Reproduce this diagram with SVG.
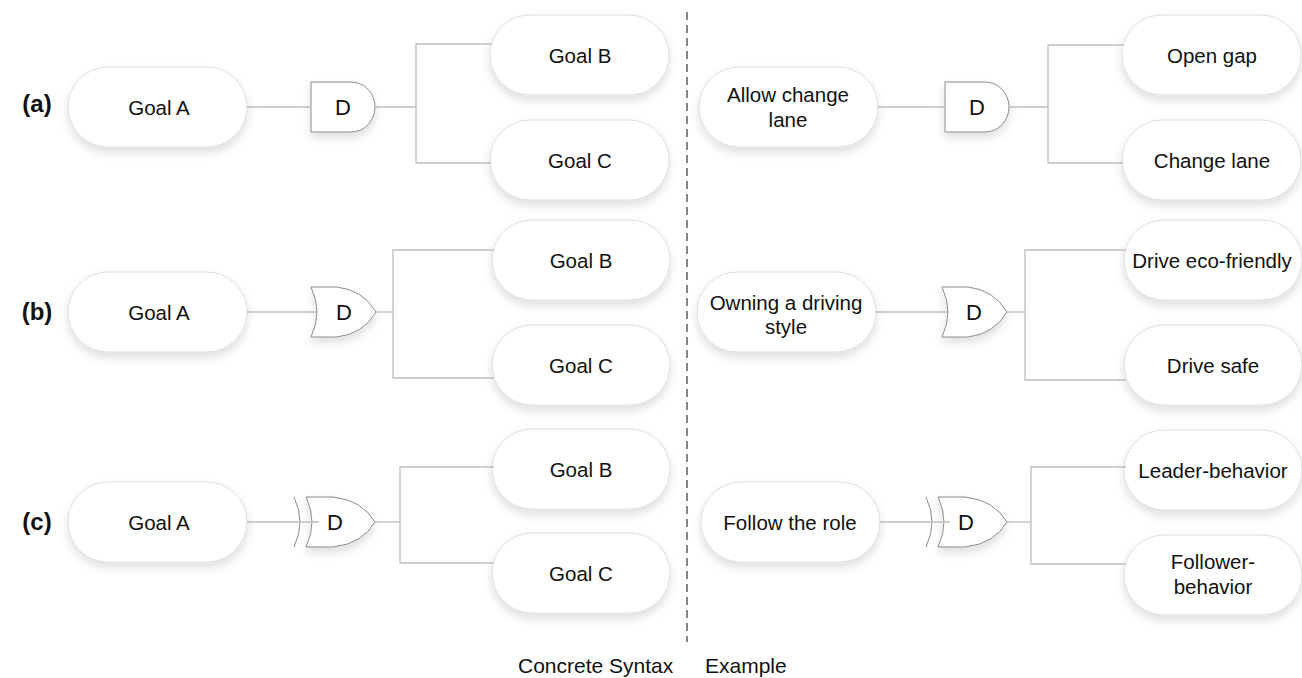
<svg xmlns="http://www.w3.org/2000/svg" width="1302" height="678" viewBox="0 0 1302 678">
  <defs>
    <filter id="sh" x="-20%" y="-30%" width="140%" height="170%">
      <feDropShadow dx="0" dy="5" stdDeviation="5" flood-color="#000" flood-opacity="0.13"/>
    </filter>
    <style>
      .pill { fill:#fff; stroke:#dedede; stroke-width:1; filter:url(#sh); }
      .gate { fill:#fff; stroke:#8a8a8a; stroke-width:1; filter:url(#sh); }
      .arc { fill:none; stroke:#8a8a8a; stroke-width:1; }
      .wire { fill:none; stroke:#bdbdbd; stroke-width:1.3; }
      .sep { fill:none; stroke:#444; stroke-width:1.3; stroke-dasharray:8 5; }
      .t { font-family:"Liberation Sans", Arial, sans-serif; font-size:20.5px; fill:#111; text-anchor:middle; }
      .d { font-size:22px; }
      .lbl { font-family:"Liberation Sans", Arial, sans-serif; font-size:24px; font-weight:bold; fill:#111; text-anchor:middle; }
      .cap { font-family:"Liberation Sans", Arial, sans-serif; font-size:21px; fill:#111; }
    </style>
  </defs>

  <rect width="1302" height="678" fill="#fff"/>

  <!-- row labels -->
  <text class="lbl" x="37" y="112">(a)</text>
  <text class="lbl" x="37" y="320">(b)</text>
  <text class="lbl" x="37" y="530">(c)</text>

  <!-- separator -->
  <path class="sep" d="M687,12 V642"/>
  <text class="cap" x="518" y="673">Concrete Syntax</text>
  <text class="cap" x="705" y="673">Example</text>

  <!-- row (a), concrete syntax: AND decomposition -->
  <g id="a-goal-a"><rect class="pill" x="68" y="67" width="179" height="80" rx="40"/><text class="t" x="159" y="115">Goal A</text></g>
  <g id="a-and"><path class="gate" d="M311,82 H351 A24,25 0 0 1 351,132 H311 Z"/><text class="t d" x="343" y="115">D</text></g>
  <g id="a-goal-b"><rect class="pill" x="490" y="15" width="179" height="80" rx="40"/><text class="t" x="580" y="63">Goal B</text></g>
  <g id="a-goal-c"><rect class="pill" x="490" y="120" width="179" height="80" rx="40"/><text class="t" x="580" y="168">Goal C</text></g>

  <!-- row (a), example -->
  <g id="a-allow"><rect class="pill" x="699" y="67" width="179" height="80" rx="40"/><text class="t" x="788" y="102">Allow change</text><text class="t" x="788" y="127">lane</text></g>
  <g id="a-and-ex"><path class="gate" d="M945,82 H985 A24,25 0 0 1 985,132 H945 Z"/><text class="t d" x="977" y="115">D</text></g>
  <g id="a-open-gap"><rect class="pill" x="1122" y="15" width="179" height="80" rx="40"/><text class="t" x="1212" y="63">Open gap</text></g>
  <g id="a-change-lane"><rect class="pill" x="1122" y="120" width="179" height="80" rx="40"/><text class="t" x="1212" y="168">Change lane</text></g>

  <!-- row (b), concrete syntax: OR decomposition -->
  <g id="b-goal-a"><rect class="pill" x="68" y="272" width="179" height="80" rx="40"/><text class="t" x="159" y="320">Goal A</text></g>
  <g id="b-or"><path class="gate" d="M311,287 Q323,312 311,337 H337 Q363,334 376,312 Q363,290 337,287 Z"/><text class="t d" x="344" y="320">D</text></g>
  <g id="b-goal-b"><rect class="pill" x="492" y="220" width="178" height="80" rx="40"/><text class="t" x="581" y="268">Goal B</text></g>
  <g id="b-goal-c"><rect class="pill" x="492" y="325" width="178" height="80" rx="40"/><text class="t" x="581" y="373">Goal C</text></g>

  <!-- row (b), example -->
  <g id="b-owning"><rect class="pill" x="697" y="272" width="179" height="80" rx="40"/><text class="t" x="786" y="310">Owning a driving</text><text class="t" x="786" y="334">style</text></g>
  <g id="b-or-ex"><path class="gate" d="M942,287 Q954,312 942,337 H968 Q994,334 1007,312 Q994,290 968,287 Z"/><text class="t d" x="974" y="320">D</text></g>
  <g id="b-eco"><rect class="pill" x="1124" y="220" width="178" height="80" rx="40"/><text class="t" x="1212" y="268">Drive eco-friendly</text></g>
  <g id="b-safe"><rect class="pill" x="1124" y="325" width="178" height="80" rx="40"/><text class="t" x="1213" y="373">Drive safe</text></g>

  <!-- row (c), concrete syntax: XOR decomposition -->
  <g id="c-goal-a"><rect class="pill" x="68" y="482" width="179" height="80" rx="40"/><text class="t" x="159" y="530">Goal A</text></g>
  <g id="c-xor"><path class="arc" d="M294,497 Q306,522 294,547"/><path class="gate" d="M306,497 Q318,522 306,547 H333 Q362,544 375,522 Q362,500 333,497 Z"/><text class="t d" x="335" y="530">D</text></g>
  <g id="c-goal-b"><rect class="pill" x="492" y="429" width="178" height="80" rx="40"/><text class="t" x="581" y="477">Goal B</text></g>
  <g id="c-goal-c"><rect class="pill" x="492" y="533" width="178" height="80" rx="40"/><text class="t" x="581" y="581">Goal C</text></g>

  <!-- row (c), example -->
  <g id="c-follow"><rect class="pill" x="701" y="482" width="179" height="80" rx="40"/><text class="t" x="790" y="530">Follow the role</text></g>
  <g id="c-xor-ex"><path class="arc" d="M926,497 Q938,522 926,547"/><path class="gate" d="M938,497 Q950,522 938,547 H965 Q994,544 1007,522 Q994,500 965,497 Z"/><text class="t d" x="966" y="530">D</text></g>
  <g id="c-leader"><rect class="pill" x="1124" y="430" width="178" height="80" rx="40"/><text class="t" x="1213" y="478">Leader-behavior</text></g>
  <g id="c-follower"><rect class="pill" x="1124" y="535" width="178" height="80" rx="40"/><text class="t" x="1213" y="569">Follower-</text><text class="t" x="1213" y="594">behavior</text></g>

  <!-- connectors -->
  <g id="connectors">
    <path class="wire" d="M247,107 H311"/>
    <path class="wire" d="M375,107 H416"/>
    <path class="wire" d="M492,44 H416 V163 H491"/>
    <path class="wire" d="M878,107 H945"/>
    <path class="wire" d="M1009,107 H1048"/>
    <path class="wire" d="M1124,45 H1048 V163 H1123"/>

    <path class="wire" d="M247,312 H317"/>
    <path class="wire" d="M376,312 H393"/>
    <path class="wire" d="M494,250 H393 V378 H494"/>
    <path class="wire" d="M876,312 H948"/>
    <path class="wire" d="M1007,312 H1025"/>
    <path class="wire" d="M1126,250 H1025 V380 H1126"/>

    <path class="wire" d="M247,522 H319"/>
    <path class="wire" d="M375,522 H400"/>
    <path class="wire" d="M494,467 H400 V563 H494"/>
    <path class="wire" d="M880,522 H950"/>
    <path class="wire" d="M1007,522 H1031"/>
    <path class="wire" d="M1126,467 H1031 V564 H1126"/>
  </g>
</svg>
